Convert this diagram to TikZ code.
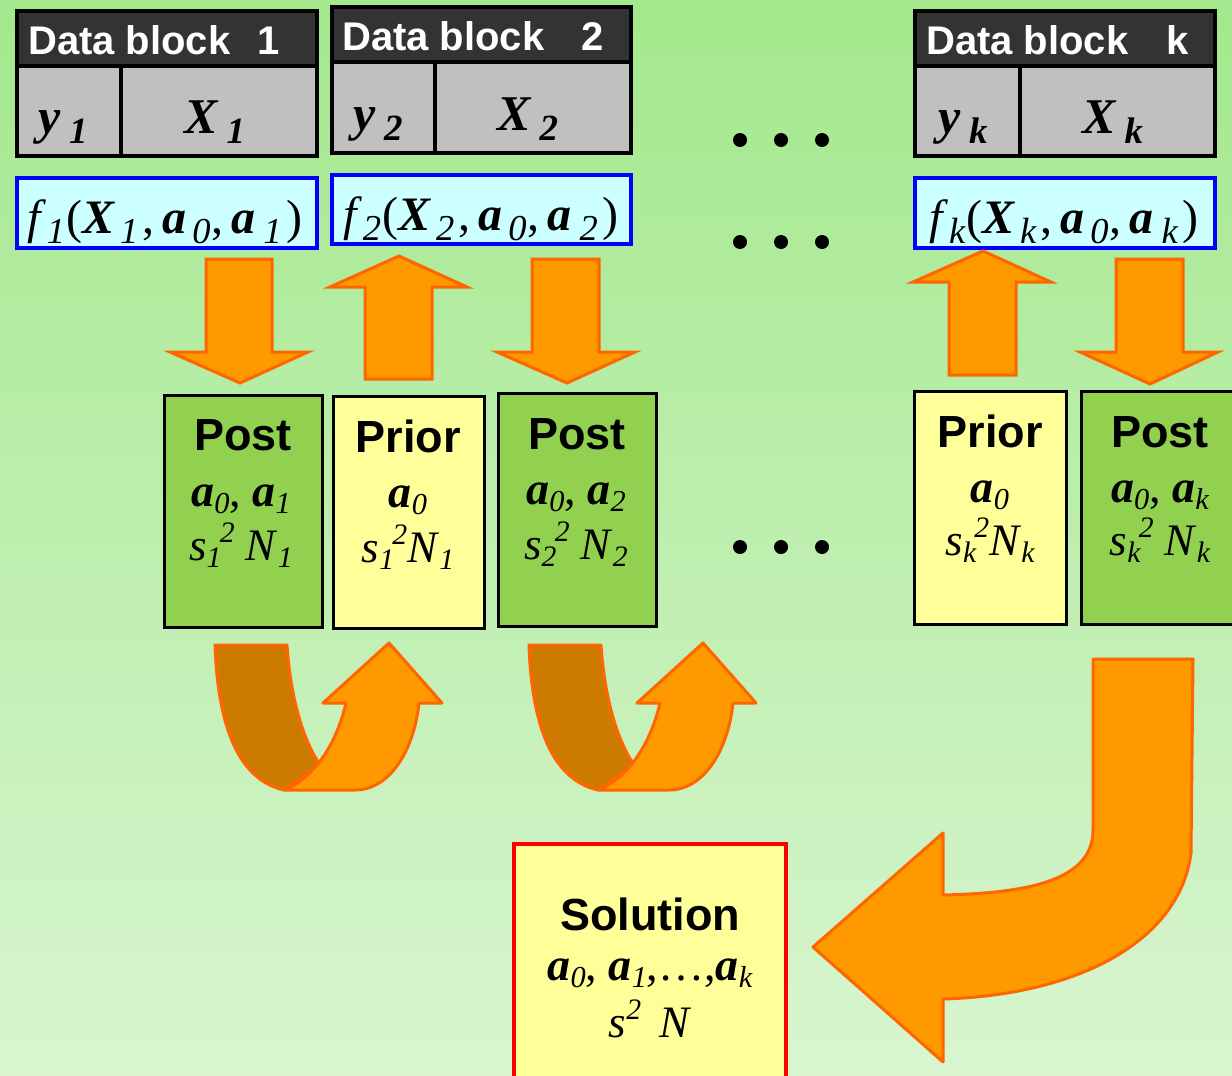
\documentclass[tikz,border=0pt]{standalone}
\usepackage{fontspec}
\setmainfont{Liberation Serif}
\setsansfont{Liberation Sans}
\usepackage{graphicx}
\definecolor{bgtop}{RGB}{163,232,140}
\definecolor{bgbot}{RGB}{216,245,208}
\definecolor{hdr}{RGB}{51,51,51}
\definecolor{cellgray}{RGB}{192,192,192}
\definecolor{ffill}{RGB}{204,255,255}
\definecolor{fblue}{RGB}{0,0,255}
\definecolor{postgreen}{RGB}{146,208,80}
\definecolor{prioryel}{RGB}{255,255,153}
\definecolor{arrfill}{RGB}{255,153,0}
\definecolor{arrline}{RGB}{255,102,0}
\definecolor{arrbrown}{RGB}{204,122,0}
\definecolor{solred}{RGB}{255,0,0}
\newcommand{\bi}[1]{{\bfseries\itshape #1}}
\newcommand{\mysub}[1]{\raisebox{-0.16em}{\scalebox{0.66}{\mdseries\itshape #1}}}
\newcommand{\cellsub}[1]{\raisebox{-0.2em}{\scalebox{0.74}{\bfseries\itshape #1}}}
\newcommand{\fs}[1]{\raisebox{-0.22em}{\scalebox{0.76}{\mdseries\itshape #1}}}
\newcommand{\mysup}[1]{\raisebox{0.40em}{\scalebox{0.66}{\mdseries\itshape #1}}}
\newcommand{\fexpr}[1]{\textit{f}\hspace{1pt}\fs{#1}\hspace{1pt}(\bi{X}\hspace{6pt}\fs{#1}\hspace{4pt},\hspace{8pt}\bi{a}\hspace{6pt}\fs{0}\hspace{1pt},\hspace{8pt}\bi{a}\hspace{8pt}\fs{#1}\hspace{5pt})}
\tikzset{
  hdrtext/.style={text=white, font=\sffamily\bfseries\fontsize{40}{40}\selectfont, inner sep=0pt},
  celltext/.style={font=\fontsize{50}{50}\selectfont, inner sep=0pt, anchor=base},
  ftext/.style={font=\fontsize{48}{48}\selectfont, inner sep=0pt, anchor=base},
  ttl/.style={font=\sffamily\bfseries\fontsize{45}{45}\selectfont, inner sep=0pt, anchor=base},
  aline/.style={font=\fontsize{46}{46}\selectfont, inner sep=0pt, anchor=base},
  mline/.style={font=\fontsize{45}{45}\selectfont, inner sep=0pt, anchor=base},
  blockline/.style={line width=4pt, draw=black},
  fbox/.style={line width=4pt, draw=fblue, fill=ffill},
  postbox/.style={line width=3pt, draw=black, fill=postgreen},
  priorbox/.style={line width=3pt, draw=black, fill=prioryel},
  barrow/.style={fill=arrfill, draw=arrline, line width=3pt, line join=miter},
  brarrow/.style={fill=arrbrown, draw=arrline, line width=3pt, line join=round},
}
\begin{document}
\begin{tikzpicture}[x=1pt,y=-1pt]
\useasboundingbox (0,0) rectangle (1232,1076);
\shade[top color=bgtop, bottom color=bgbot] (0,0) rectangle (1232,1076);

% ---------- data blocks ----------
% block 1
\draw[blockline, fill=cellgray] (17,11) rectangle (317,156);
\fill[hdr] (17,11) rectangle (317,66);
\draw[blockline] (17,11) rectangle (317,156);
\draw[blockline] (17,66) -- (317,66);
\draw[line width=4pt] (121,66) -- (121,156);
\node[hdrtext, anchor=base west] (db1) at (28,54) {Data block};
\node[hdrtext, anchor=base west] (db1n) at (257,54) {1};
\node[celltext] (y1) at (63,133) {\bi{y}\,\cellsub{1}};
\node[celltext] (X1) at (215,133) {\bi{X}\,\cellsub{1}};
% block 2
\draw[blockline, fill=cellgray] (332,7) rectangle (631,153);
\fill[hdr] (332,7) rectangle (631,62);
\draw[blockline] (332,7) rectangle (631,153);
\draw[blockline] (332,62) -- (631,62);
\draw[line width=4pt] (435,62) -- (435,153);
\node[hdrtext, anchor=base west] (db2) at (342,50) {Data block};
\node[hdrtext, anchor=base west] (db2n) at (581,50) {2};
\node[celltext] (y2) at (378,130) {\bi{y}\,\cellsub{2}};
\node[celltext] (X2) at (528,130) {\bi{X}\,\cellsub{2}};
% block k
\draw[blockline, fill=cellgray] (915,11) rectangle (1215,156);
\fill[hdr] (915,11) rectangle (1215,66);
\draw[blockline] (915,11) rectangle (1215,156);
\draw[blockline] (915,66) -- (1215,66);
\draw[line width=4pt] (1020,66) -- (1020,156);
\node[hdrtext, anchor=base west] (dbk) at (926,54) {Data block};
\node[hdrtext, anchor=base west] (dbkn) at (1166,54) {k};
\node[celltext] (yk) at (963,133) {\bi{y}\,\cellsub{k}};
\node[celltext] (Xk) at (1113,133) {\bi{X}\,\cellsub{k}};

% ---------- f boxes ----------
\draw[fbox] (17,178) rectangle (317,248);
\node[ftext] (f1) at (165,233) {\fexpr{1}};
\draw[fbox] (332,175) rectangle (631,244);
\node[ftext] (f2) at (481,230) {\fexpr{2}};
\draw[fbox] (915,178) rectangle (1215,248);
\node[ftext] (fk) at (1064,233) {\fexpr{k}};

% ---------- dots ----------
\foreach \yy in {140,242,547} {
  \foreach \xx in {740,781,822} { \fill[black] (\xx,\yy) circle (7); }
}

% ---------- straight block arrows ----------
\draw[barrow] (206,259)--(272,259)--(272,352)--(308,352)--(240,383)--(170,352)--(206,352)--cycle;
\draw[barrow] (399,256)--(467,287)--(432,287)--(432,379)--(365,379)--(365,287)--(330,287)--cycle;
\draw[barrow] (532,259)--(599,259)--(599,352)--(635,352)--(567,383)--(497,352)--(532,352)--cycle;
\draw[barrow] (983,251)--(1051,282)--(1016,282)--(1016,375)--(949,375)--(949,282)--(913,282)--cycle;
\draw[barrow] (1116,259)--(1183,259)--(1183,352)--(1218,352)--(1150,384)--(1080,352)--(1116,352)--cycle;

% ---------- post / prior boxes ----------
\draw[postbox] (164,395) rectangle (322,627);
\node[ttl] (post1) at (243,450) {Post};
\node[aline] (post1a) at (241,506) {\bi{a}\mysub{0}, \bi{a}\mysub{1}};
\node[mline] (post1s) at (241,560) {\textit{s}\mysub{1}\hspace{-0.04em}\mysup{2} \textit{N}\mysub{1}};

\draw[priorbox] (333,396) rectangle (484,628);
\node[ttl] (prior1) at (408,452) {Prior};
\node[aline] (prior1a) at (408,507) {\bi{a}\mysub{0}};
\node[mline] (prior1s) at (408,562) {\textit{s}\mysub{1}\hspace{-0.04em}\mysup{2}\textit{N}\mysub{1}};

\draw[postbox] (498,393) rectangle (656,626);
\node[ttl] (post2) at (577,449) {Post};
\node[aline] (post2a) at (576,504) {\bi{a}\mysub{0}, \bi{a}\mysub{2}};
\node[mline] (post2s) at (576,559) {\textit{s}\mysub{2}\hspace{-0.04em}\mysup{2} \textit{N}\mysub{2}};

\draw[priorbox] (914,391) rectangle (1066,624);
\node[ttl] (priork) at (990,447) {Prior};
\node[aline] (priorka) at (990,502) {\bi{a}\mysub{0}};
\node[mline] (priorks) at (990,555) {\textit{s}\mysub{k}\hspace{-0.04em}\mysup{2}\textit{N}\mysub{k}};

\draw[postbox] (1081,391) rectangle (1245,624);
\node[ttl] (postk) at (1160,447) {Post};
\node[aline] (postka) at (1160,502) {\bi{a}\mysub{0}, \bi{a}\mysub{k}};
\node[mline] (postks) at (1160,555) {\textit{s}\mysub{k}\hspace{-0.04em}\mysup{2} \textit{N}\mysub{k}};

% ---------- U-turn arrows ----------
\foreach \sh in {0,314} {
\begin{scope}[xshift=\sh]
  \draw[brarrow] (215,645) -- (287,645) .. controls (290,690) and (300,735) .. (320,765) -- (284,790)
     .. controls (240,780) and (218,730) .. (215,645) -- cycle;
  \draw[barrow, line join=round] (389,643) -- (442,703) -- (419,703) .. controls (414,750) and (390,790) .. (355,790)
     -- (284,790) .. controls (310,780) and (335,750) .. (346,703) -- (323,703) -- cycle;
\end{scope}
}

% ---------- big arrow to solution ----------
\draw[barrow, line join=round] (1093,659) -- (1193,659) -- (1191,853) .. controls (1180,940) and (1080,995) .. (943,999)
   -- (943,1062) -- (813,947) -- (943,833) -- (943,895) .. controls (1030,893) and (1093,880) .. (1093,830) -- cycle;

% ---------- solution ----------
\draw[line width=4.5pt, draw=solred, fill=prioryel] (514,844) rectangle (786,1090);
\node[ttl] (sol) at (650,930) {Solution};
\node[aline] (sola) at (650,980) {\bi{a}\mysub{0}, \bi{a}\mysub{1},\ldots,\bi{a}\mysub{k}};
\node[mline] (sols) at (650,1037) {\textit{s}\mysup{2}\hspace{0.4em}\textit{N}};
\end{tikzpicture}
\end{document}
